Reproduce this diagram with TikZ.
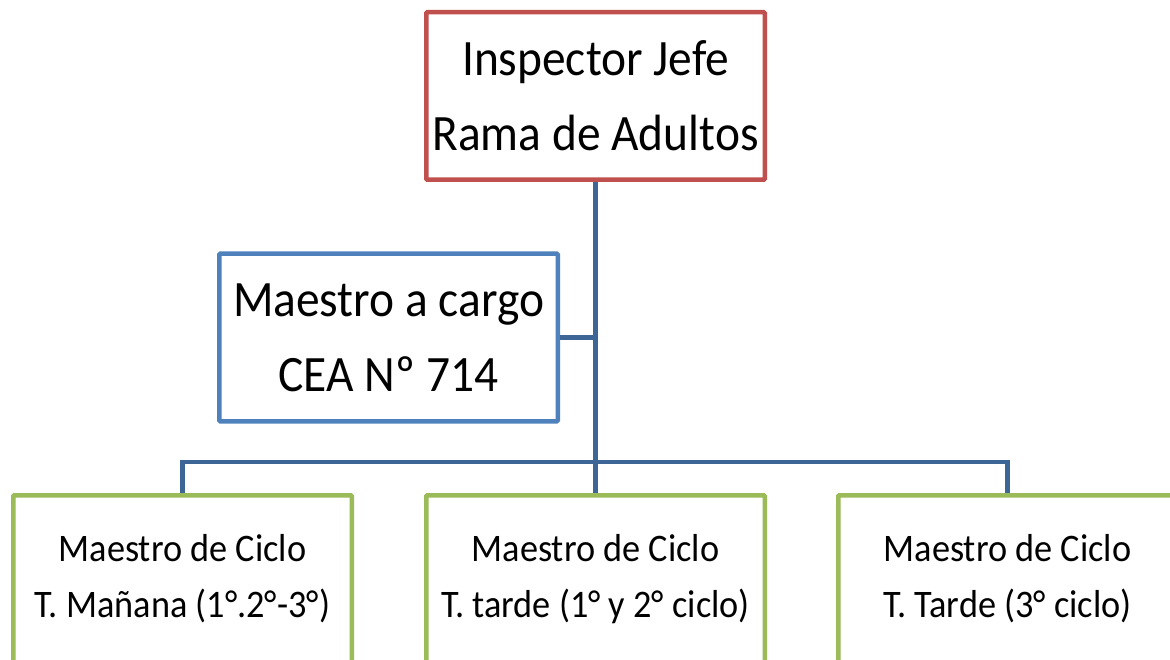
\documentclass[tikz,border=0pt]{standalone}
\usepackage{fontspec}
\setmainfont{Carlito}[FakeStretch=0.93]
\definecolor{boxred}{HTML}{C0504D}
\definecolor{boxblue}{HTML}{4F81BD}
\definecolor{boxgreen}{HTML}{9BBB59}
\definecolor{linkblue}{HTML}{3D6696}
\begin{document}
\begin{tikzpicture}[x=1pt,y=-1pt,
  box/.style={draw, line width=4.5pt, rounded corners=1pt, fill=white, inner sep=0pt,
    minimum width=338.5pt, minimum height=167.5pt, align=center},
  bigtext/.style={font=\fontsize{51}{75}\selectfont},
  smalltext/.style={font=\fontsize{39}{56}\selectfont},
  link/.style={draw=linkblue, line width=4.5pt}]
\useasboundingbox (0,0) rectangle (1170,660);
\clip (0,0) rectangle (1170,660);
\node[box, draw=boxred, bigtext] (top) at (595.5,96) {Inspector Jefe\\Rama de Adultos};
\node[box, draw=boxblue, bigtext] (mac) at (388.5,337.5) {Maestro a cargo\\CEA Nº 714};
\node[box, draw=boxgreen, smalltext] (left) at (182.5,579) {Maestro de Ciclo\\T. Mañana (1°.2°-3°)};
\node[box, draw=boxgreen, smalltext] (mid) at (595.5,579) {Maestro de Ciclo\\T. tarde (1° y 2° ciclo)};
\node[box, draw=boxgreen, smalltext] (right) at (1007.5,579) {Maestro de Ciclo\\T. Tarde (3° ciclo)};
\coordinate (bus) at (595.5,462);
\path[link] (top.south) -- (mid.north);
\path[link] (mac.east) -- (top.south |- mac.east);
\path[link] (left.north) |- (bus) -| (right.north);
\end{tikzpicture}
\end{document}
